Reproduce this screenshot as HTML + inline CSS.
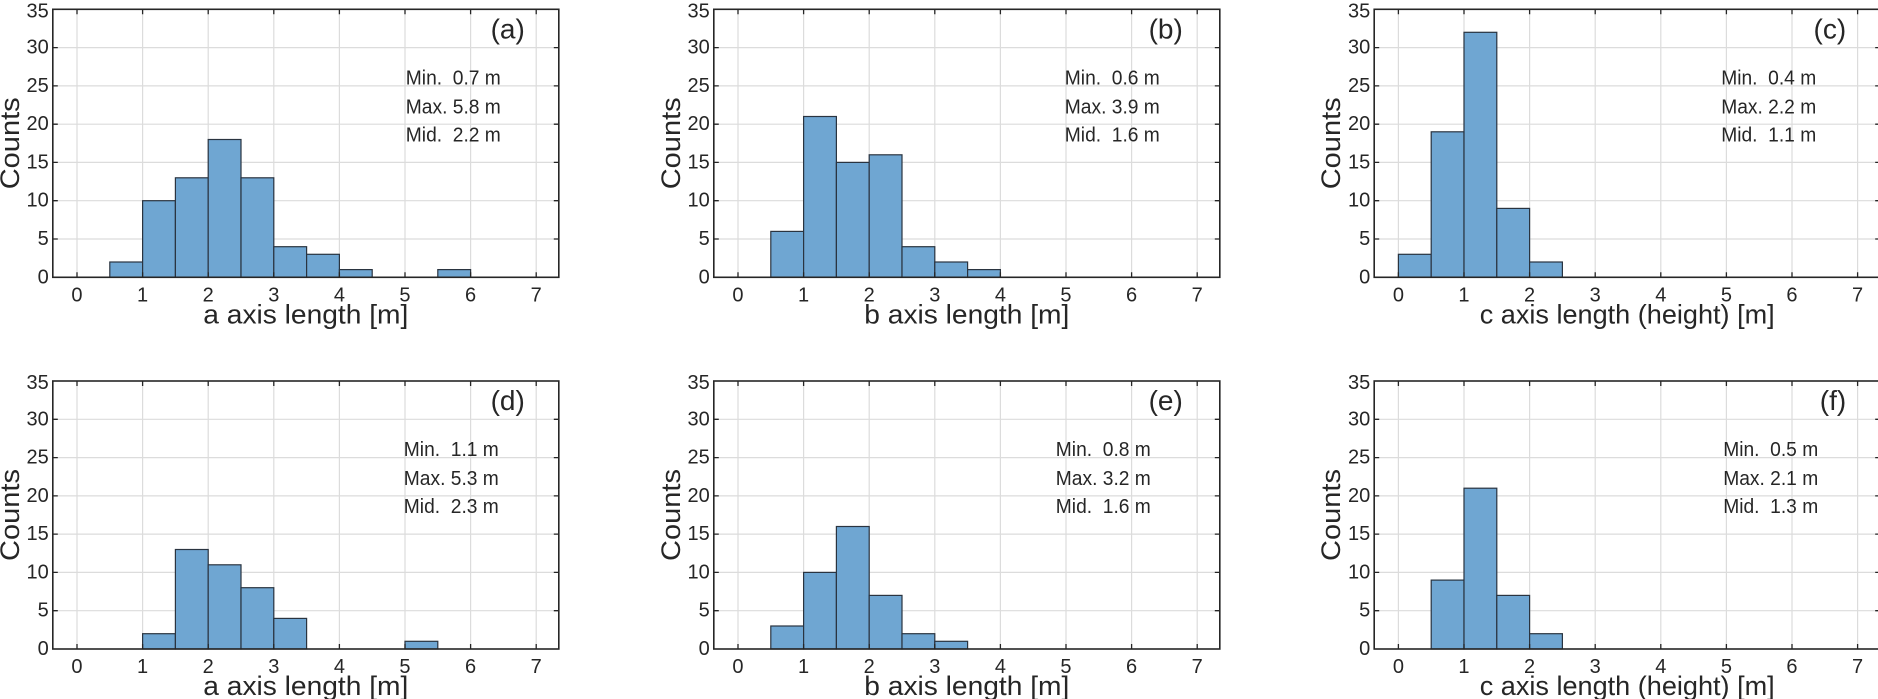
<!DOCTYPE html>
<html><head><meta charset="utf-8"><style>
html,body{margin:0;padding:0;background:#fff;}
svg{display:block;font-family:"Liberation Sans",Arial,sans-serif;}
.tk{font-size:20px;fill:#262626;}
.yl{text-anchor:end;dominant-baseline:central;}
.xl{text-anchor:middle;}
.lab{font-size:27px;fill:#262626;text-anchor:middle;}
.ann{font-size:20px;fill:#262626;}
.pl{font-size:28px;fill:#262626;text-anchor:end;}
.bar{fill:#6fa6d2;stroke:#2a3440;stroke-width:1.2;}
</style></head><body>
<svg width="1878" height="699" viewBox="0 0 1878 699" xmlns="http://www.w3.org/2000/svg">
<defs>
<g id="frame">
 <g stroke="#dcdcdc" stroke-width="1.2">
  <line x1="0" y1="229.7" x2="506" y2="229.7"/><line x1="0" y1="191.4" x2="506" y2="191.4"/>
  <line x1="0" y1="153.1" x2="506" y2="153.1"/><line x1="0" y1="114.9" x2="506" y2="114.9"/>
  <line x1="0" y1="76.6" x2="506" y2="76.6"/><line x1="0" y1="38.3" x2="506" y2="38.3"/>
  <line x1="24.2" y1="0" x2="24.2" y2="268"/><line x1="89.8" y1="0" x2="89.8" y2="268"/>
  <line x1="155.4" y1="0" x2="155.4" y2="268"/><line x1="221" y1="0" x2="221" y2="268"/>
  <line x1="286.6" y1="0" x2="286.6" y2="268"/><line x1="352.2" y1="0" x2="352.2" y2="268"/>
  <line x1="417.8" y1="0" x2="417.8" y2="268"/><line x1="483.4" y1="0" x2="483.4" y2="268"/>
 </g>
</g>
<g id="ticks" stroke="#262626" stroke-width="1.3">
  <path d="M24.2 268v-5M89.8 268v-5M155.4 268v-5M221 268v-5M286.6 268v-5M352.2 268v-5M417.8 268v-5M483.4 268v-5
  M24.2 0v5M89.8 0v5M155.4 0v5M221 0v5M286.6 0v5M352.2 0v5M417.8 0v5M483.4 0v5
  M0 229.7h5M0 191.4h5M0 153.1h5M0 114.9h5M0 76.6h5M0 38.3h5
  M506 229.7h-5M506 191.4h-5M506 153.1h-5M506 114.9h-5M506 76.6h-5M506 38.3h-5"/>
  <rect x="0" y="0" width="506" height="268" fill="none" stroke="#262626" stroke-width="1.6"/>
</g>
</defs>

<!-- Panel a -->
<g transform="translate(52.8,9.3)">
 <use href="#frame"/>
 <rect class="bar" x="57" y="252.7" width="32.8" height="15.3"/>
 <rect class="bar" x="89.8" y="191.4" width="32.8" height="76.6"/>
 <rect class="bar" x="122.6" y="168.5" width="32.8" height="99.5"/>
 <rect class="bar" x="155.4" y="130.2" width="32.8" height="137.8"/>
 <rect class="bar" x="188.2" y="168.5" width="32.8" height="99.5"/>
 <rect class="bar" x="221" y="237.4" width="32.8" height="30.6"/>
 <rect class="bar" x="253.8" y="245" width="32.8" height="23"/>
 <rect class="bar" x="286.6" y="260.3" width="32.8" height="7.7"/>
 <rect class="bar" x="385" y="260.3" width="32.8" height="7.7"/>
 <use href="#ticks"/>
 <g class="tk yl"><text x="-4" y="268">0</text><text x="-4" y="229.7">5</text><text x="-4" y="191.4">10</text><text x="-4" y="153.1">15</text><text x="-4" y="114.9">20</text><text x="-4" y="76.6">25</text><text x="-4" y="38.3">30</text><text x="-4" y="2">35</text></g>
 <g class="tk xl"><text x="24.2" y="292">0</text><text x="89.8" y="292">1</text><text x="155.4" y="292">2</text><text x="221" y="292">3</text><text x="286.6" y="292">4</text><text x="352.2" y="292">5</text><text x="417.8" y="292">6</text><text x="483.4" y="292">7</text></g>
 <text class="lab" x="253" y="314" textLength="205" lengthAdjust="spacingAndGlyphs">a axis length [m]</text>
 <text class="lab" transform="translate(-34,134) rotate(-90)" textLength="92" lengthAdjust="spacingAndGlyphs">Counts</text>
 <text class="pl" x="472" y="29">(a)</text>
 <g class="ann"><text x="353" y="75" textLength="95" lengthAdjust="spacingAndGlyphs">Min.&#160;&#160;0.7 m</text><text x="353" y="104" textLength="95" lengthAdjust="spacingAndGlyphs">Max. 5.8 m</text><text x="353" y="132" textLength="95" lengthAdjust="spacingAndGlyphs">Mid.&#160;&#160;2.2 m</text></g>
</g>

<!-- Panel b -->
<g transform="translate(713.8,9.3)">
 <use href="#frame"/>
 <rect class="bar" x="57" y="222.1" width="32.8" height="45.9"/>
 <rect class="bar" x="89.8" y="107.2" width="32.8" height="160.8"/>
 <rect class="bar" x="122.6" y="153.1" width="32.8" height="114.9"/>
 <rect class="bar" x="155.4" y="145.5" width="32.8" height="122.5"/>
 <rect class="bar" x="188.2" y="237.4" width="32.8" height="30.6"/>
 <rect class="bar" x="221" y="252.7" width="32.8" height="15.3"/>
 <rect class="bar" x="253.8" y="260.3" width="32.8" height="7.7"/>
 <use href="#ticks"/>
 <g class="tk yl"><text x="-4" y="268">0</text><text x="-4" y="229.7">5</text><text x="-4" y="191.4">10</text><text x="-4" y="153.1">15</text><text x="-4" y="114.9">20</text><text x="-4" y="76.6">25</text><text x="-4" y="38.3">30</text><text x="-4" y="2">35</text></g>
 <g class="tk xl"><text x="24.2" y="292">0</text><text x="89.8" y="292">1</text><text x="155.4" y="292">2</text><text x="221" y="292">3</text><text x="286.6" y="292">4</text><text x="352.2" y="292">5</text><text x="417.8" y="292">6</text><text x="483.4" y="292">7</text></g>
 <text class="lab" x="253" y="314" textLength="205" lengthAdjust="spacingAndGlyphs">b axis length [m]</text>
 <text class="lab" transform="translate(-34,134) rotate(-90)" textLength="92" lengthAdjust="spacingAndGlyphs">Counts</text>
 <text class="pl" x="469" y="29">(b)</text>
 <g class="ann"><text x="351" y="75" textLength="95" lengthAdjust="spacingAndGlyphs">Min.&#160;&#160;0.6 m</text><text x="351" y="104" textLength="95" lengthAdjust="spacingAndGlyphs">Max. 3.9 m</text><text x="351" y="132" textLength="95" lengthAdjust="spacingAndGlyphs">Mid.&#160;&#160;1.6 m</text></g>
</g>

<!-- Panel c -->
<g transform="translate(1374.2,9.3)">
 <use href="#frame"/>
 <rect class="bar" x="24.2" y="245" width="32.8" height="23"/>
 <rect class="bar" x="57" y="122.5" width="32.8" height="145.5"/>
 <rect class="bar" x="89.8" y="23" width="32.8" height="245"/>
 <rect class="bar" x="122.6" y="199.1" width="32.8" height="68.9"/>
 <rect class="bar" x="155.4" y="252.7" width="32.8" height="15.3"/>
 <use href="#ticks"/>
 <g class="tk yl"><text x="-4" y="268">0</text><text x="-4" y="229.7">5</text><text x="-4" y="191.4">10</text><text x="-4" y="153.1">15</text><text x="-4" y="114.9">20</text><text x="-4" y="76.6">25</text><text x="-4" y="38.3">30</text><text x="-4" y="2">35</text></g>
 <g class="tk xl"><text x="24.2" y="292">0</text><text x="89.8" y="292">1</text><text x="155.4" y="292">2</text><text x="221" y="292">3</text><text x="286.6" y="292">4</text><text x="352.2" y="292">5</text><text x="417.8" y="292">6</text><text x="483.4" y="292">7</text></g>
 <text class="lab" x="253" y="314" textLength="295" lengthAdjust="spacingAndGlyphs">c axis length (height) [m]</text>
 <text class="lab" transform="translate(-34,134) rotate(-90)" textLength="92" lengthAdjust="spacingAndGlyphs">Counts</text>
 <text class="pl" x="472" y="29">(c)</text>
 <g class="ann"><text x="347" y="75" textLength="95" lengthAdjust="spacingAndGlyphs">Min.&#160;&#160;0.4 m</text><text x="347" y="104" textLength="95" lengthAdjust="spacingAndGlyphs">Max. 2.2 m</text><text x="347" y="132" textLength="95" lengthAdjust="spacingAndGlyphs">Mid.&#160;&#160;1.1 m</text></g>
</g>

<!-- Panel d -->
<g transform="translate(52.8,381)">
 <use href="#frame"/>
 <rect class="bar" x="89.8" y="252.7" width="32.8" height="15.3"/>
 <rect class="bar" x="122.6" y="168.5" width="32.8" height="99.5"/>
 <rect class="bar" x="155.4" y="183.8" width="32.8" height="84.2"/>
 <rect class="bar" x="188.2" y="206.7" width="32.8" height="61.3"/>
 <rect class="bar" x="221" y="237.4" width="32.8" height="30.6"/>
 <rect class="bar" x="352.2" y="260.3" width="32.8" height="7.7"/>
 <use href="#ticks"/>
 <g class="tk yl"><text x="-4" y="268">0</text><text x="-4" y="229.7">5</text><text x="-4" y="191.4">10</text><text x="-4" y="153.1">15</text><text x="-4" y="114.9">20</text><text x="-4" y="76.6">25</text><text x="-4" y="38.3">30</text><text x="-4" y="2">35</text></g>
 <g class="tk xl"><text x="24.2" y="292">0</text><text x="89.8" y="292">1</text><text x="155.4" y="292">2</text><text x="221" y="292">3</text><text x="286.6" y="292">4</text><text x="352.2" y="292">5</text><text x="417.8" y="292">6</text><text x="483.4" y="292">7</text></g>
 <text class="lab" x="253" y="314" textLength="205" lengthAdjust="spacingAndGlyphs">a axis length [m]</text>
 <text class="lab" transform="translate(-34,134) rotate(-90)" textLength="92" lengthAdjust="spacingAndGlyphs">Counts</text>
 <text class="pl" x="472" y="29">(d)</text>
 <g class="ann"><text x="351" y="75" textLength="95" lengthAdjust="spacingAndGlyphs">Min.&#160;&#160;1.1 m</text><text x="351" y="104" textLength="95" lengthAdjust="spacingAndGlyphs">Max. 5.3 m</text><text x="351" y="132" textLength="95" lengthAdjust="spacingAndGlyphs">Mid.&#160;&#160;2.3 m</text></g>
</g>

<!-- Panel e -->
<g transform="translate(713.8,381)">
 <use href="#frame"/>
 <rect class="bar" x="57" y="245" width="32.8" height="23"/>
 <rect class="bar" x="89.8" y="191.4" width="32.8" height="76.6"/>
 <rect class="bar" x="122.6" y="145.5" width="32.8" height="122.5"/>
 <rect class="bar" x="155.4" y="214.4" width="32.8" height="53.6"/>
 <rect class="bar" x="188.2" y="252.7" width="32.8" height="15.3"/>
 <rect class="bar" x="221" y="260.3" width="32.8" height="7.7"/>
 <use href="#ticks"/>
 <g class="tk yl"><text x="-4" y="268">0</text><text x="-4" y="229.7">5</text><text x="-4" y="191.4">10</text><text x="-4" y="153.1">15</text><text x="-4" y="114.9">20</text><text x="-4" y="76.6">25</text><text x="-4" y="38.3">30</text><text x="-4" y="2">35</text></g>
 <g class="tk xl"><text x="24.2" y="292">0</text><text x="89.8" y="292">1</text><text x="155.4" y="292">2</text><text x="221" y="292">3</text><text x="286.6" y="292">4</text><text x="352.2" y="292">5</text><text x="417.8" y="292">6</text><text x="483.4" y="292">7</text></g>
 <text class="lab" x="253" y="314" textLength="205" lengthAdjust="spacingAndGlyphs">b axis length [m]</text>
 <text class="lab" transform="translate(-34,134) rotate(-90)" textLength="92" lengthAdjust="spacingAndGlyphs">Counts</text>
 <text class="pl" x="469" y="29">(e)</text>
 <g class="ann"><text x="342" y="75" textLength="95" lengthAdjust="spacingAndGlyphs">Min.&#160;&#160;0.8 m</text><text x="342" y="104" textLength="95" lengthAdjust="spacingAndGlyphs">Max. 3.2 m</text><text x="342" y="132" textLength="95" lengthAdjust="spacingAndGlyphs">Mid.&#160;&#160;1.6 m</text></g>
</g>

<!-- Panel f -->
<g transform="translate(1374.2,381)">
 <use href="#frame"/>
 <rect class="bar" x="57" y="199.1" width="32.8" height="68.9"/>
 <rect class="bar" x="89.8" y="107.2" width="32.8" height="160.8"/>
 <rect class="bar" x="122.6" y="214.4" width="32.8" height="53.6"/>
 <rect class="bar" x="155.4" y="252.7" width="32.8" height="15.3"/>
 <use href="#ticks"/>
 <g class="tk yl"><text x="-4" y="268">0</text><text x="-4" y="229.7">5</text><text x="-4" y="191.4">10</text><text x="-4" y="153.1">15</text><text x="-4" y="114.9">20</text><text x="-4" y="76.6">25</text><text x="-4" y="38.3">30</text><text x="-4" y="2">35</text></g>
 <g class="tk xl"><text x="24.2" y="292">0</text><text x="89.8" y="292">1</text><text x="155.4" y="292">2</text><text x="221" y="292">3</text><text x="286.6" y="292">4</text><text x="352.2" y="292">5</text><text x="417.8" y="292">6</text><text x="483.4" y="292">7</text></g>
 <text class="lab" x="253" y="314" textLength="295" lengthAdjust="spacingAndGlyphs">c axis length (height) [m]</text>
 <text class="lab" transform="translate(-34,134) rotate(-90)" textLength="92" lengthAdjust="spacingAndGlyphs">Counts</text>
 <text class="pl" x="472" y="29">(f)</text>
 <g class="ann"><text x="349" y="75" textLength="95" lengthAdjust="spacingAndGlyphs">Min.&#160;&#160;0.5 m</text><text x="349" y="104" textLength="95" lengthAdjust="spacingAndGlyphs">Max. 2.1 m</text><text x="349" y="132" textLength="95" lengthAdjust="spacingAndGlyphs">Mid.&#160;&#160;1.3 m</text></g>
</g>
</svg>
</body></html>
